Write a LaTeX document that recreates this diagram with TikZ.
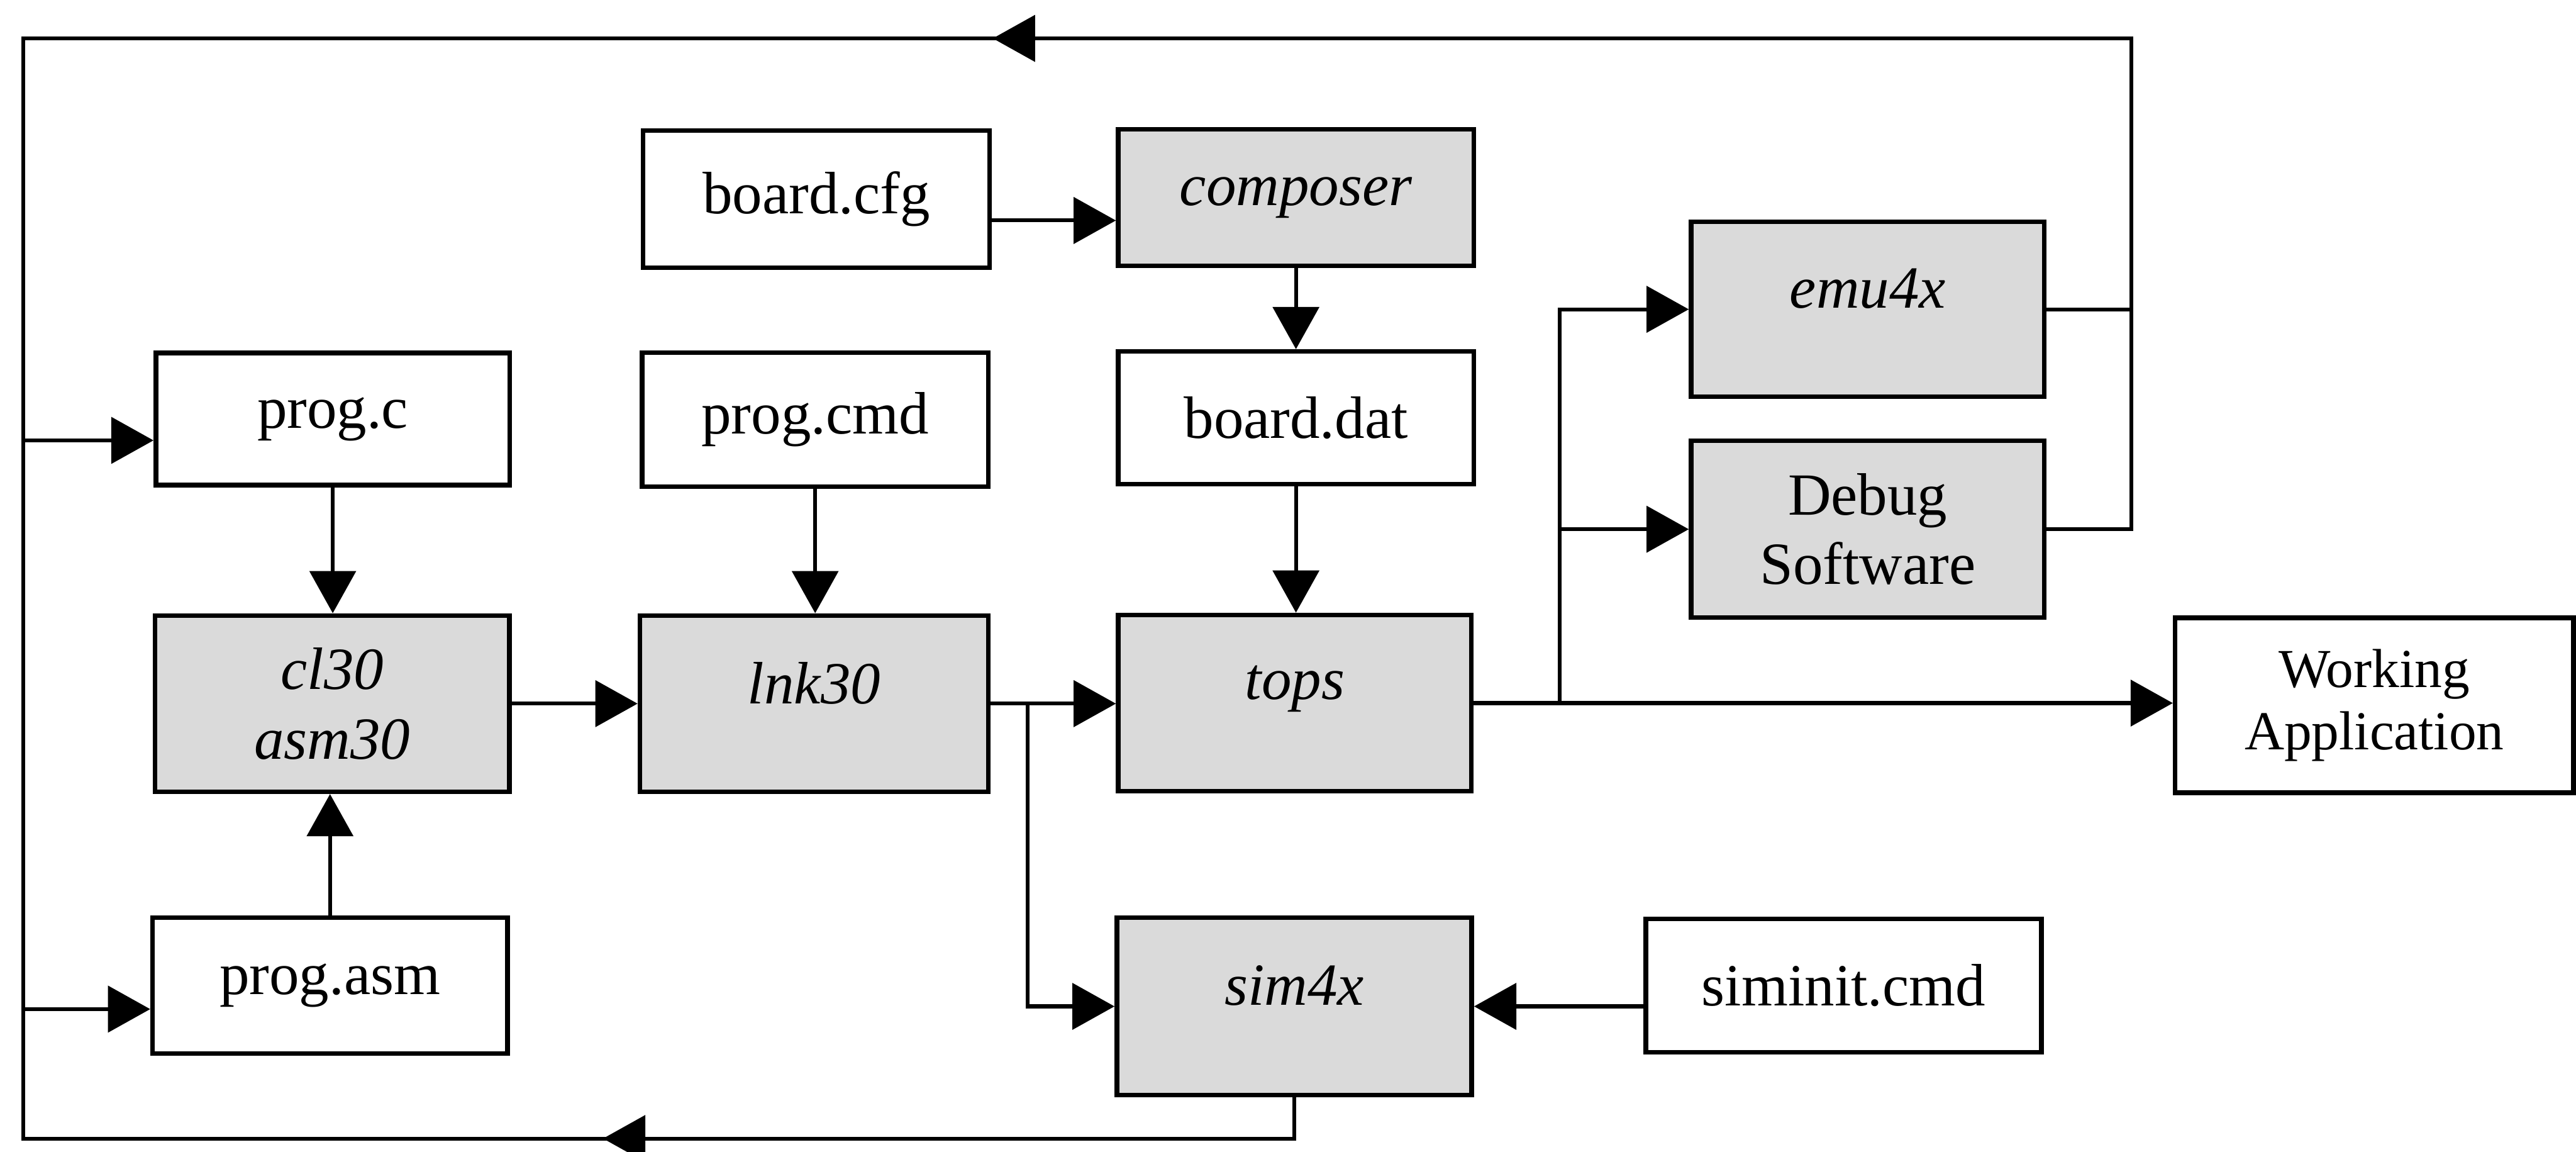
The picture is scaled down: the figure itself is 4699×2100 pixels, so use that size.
\documentclass[tikz,border=0pt]{standalone}
\usepackage{fontspec}
\setmainfont{Liberation Serif}
\usetikzlibrary{arrows.meta}
\definecolor{boxgray}{RGB}{218,218,218}
\newcommand\fsz{\fontsize{31pt}{36pt}\selectfont}
\newcommand\fsw{\fontsize{28.5pt}{32pt}\selectfont}
\newcommand\uptext[1]{\raisebox{0.76cm}{#1}}
\begin{document}
\begin{tikzpicture}[x=0.01cm,y=-0.01cm,
  wbox/.style={draw, line width=0.085cm, fill=white, inner sep=0pt, align=center, font=\fsz},
  gbox/.style={wbox, fill=boxgray},
  ibox/.style={gbox, font=\fsz\itshape},
  conn/.style={line width=0.07cm, line cap=rect},
  arr/.style={line width=0.07cm, -{Triangle[length=0.77cm,width=0.84cm]}},
]
\useasboundingbox[fill=white] (0,0) rectangle (4699,2100);

% nodes
\node[wbox, minimum width=6.32cm, minimum height=2.50cm] (bcfg) at (1489,363) {board.cfg};
\node[ibox, minimum width=6.48cm, minimum height=2.49cm] (comp) at (2364,360) {composer};
\node[ibox, minimum width=6.44cm, minimum height=3.19cm] (emu)  at (3407,564) {\uptext{emu4x}};
\node[wbox, minimum width=6.45cm, minimum height=2.41cm] (pc)   at (607,764)  {prog.c};
\node[wbox, minimum width=6.31cm, minimum height=2.44cm] (pcmd) at (1487,765) {prog.cmd};
\node[wbox, minimum width=6.48cm, minimum height=2.42cm] (bdat) at (2364,762) {board.dat};
\node[gbox, minimum width=6.44cm, minimum height=3.22cm] (dbg)  at (3407,965) {Debug\\Software};
\node[ibox, minimum width=6.46cm, minimum height=3.21cm] (cl)   at (606,1283) {cl30\\asm30};
\node[ibox, minimum width=6.35cm, minimum height=3.21cm] (lnk)  at (1485,1283) {\uptext{lnk30}};
\node[ibox, minimum width=6.44cm, minimum height=3.21cm] (tops) at (2362,1282) {\uptext{tops}};
\node[wbox, font=\fsw, minimum width=7.26cm, minimum height=3.19cm] (wa) at (4331,1286) {Working\\Application};
\node[wbox, minimum width=6.47cm, minimum height=2.48cm] (pasm) at (602,1797) {prog.asm};
\node[ibox, minimum width=6.47cm, minimum height=3.23cm] (sim)  at (2361,1835) {\uptext{sim4x}};
\node[wbox, minimum width=7.21cm, minimum height=2.43cm] (simi) at (3363,1797) {siminit.cmd};

% junction / free coordinates
\coordinate (j1) at (1875,1283);
\coordinate (j2) at (2845,1282);
\coordinate (TR) at (3888,70);
\coordinate (TL) at (42,70);
\coordinate (TA) at (1811,70);
\coordinate (BL) at (42,2076);
\coordinate (BA) at (1100,2076);
\coordinate (Lc) at (42,803);
\coordinate (La) at (42,1840);

% forward flow
\draw[arr] ([yshift=-0.39cm]bcfg.east) -- ([yshift=-0.39cm]bcfg.east -| comp.west);
\draw[arr] (comp.south) -- (comp.south |- bdat.north);
\draw[arr] (bdat.south) -- (bdat.south |- tops.north);
\draw[arr] (pc.south) -- (pc.south |- cl.north);
\draw[arr] (pasm.north) -- (pasm.north |- cl.south);
\draw[arr] (pcmd.south) -- (pcmd.south |- lnk.north);
\draw[arr] (cl.east) -- (cl.east -| lnk.west);
\draw[arr] (lnk.east) -- (lnk.east -| tops.west);
\draw[arr] (j1) |- (sim.west);
\draw[arr] (sim.east -| simi.west) -- (sim.east);
\draw[arr] (tops.east) -- (tops.east -| wa.west);
\draw[arr] (j2) |- (emu.west);
\draw[arr] (j2 |- dbg.west) -- (dbg.west);

% feedback loop
\draw[conn] (dbg.east) -| (TR) -- (TL) -- (BL) -| (sim.south);
\draw[conn] (emu.east) -- (emu.east -| TR);
\draw[arr] (TR) -- (TA);
\draw[arr] (sim.south |- BL) -- (BA);
\draw[arr] (Lc) -- (Lc -| pc.west);
\draw[arr] (La) -- (La -| pasm.west);
\end{tikzpicture}
\end{document}
